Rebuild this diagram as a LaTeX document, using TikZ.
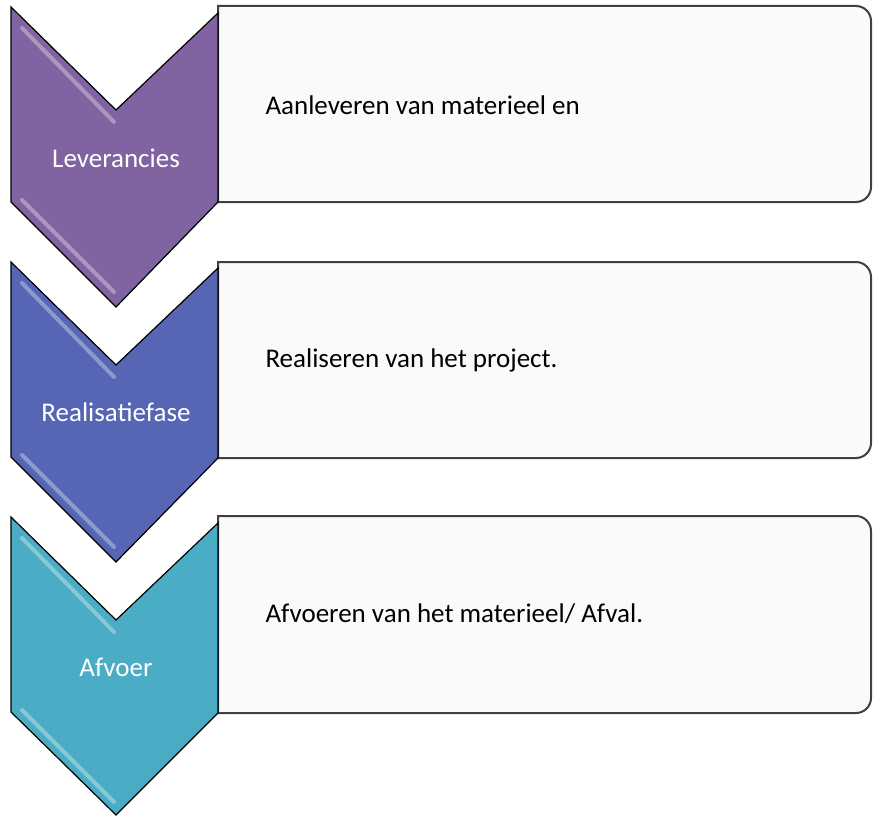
\documentclass[tikz,border=0pt]{standalone}
\usepackage{fontspec}
\setmainfont{Carlito}
\definecolor{levpurple}{HTML}{8064A2}
\definecolor{realblue}{HTML}{5665B4}
\definecolor{afvteal}{HTML}{4BACC6}
\definecolor{boxline}{HTML}{404040}
\definecolor{boxfill}{HTML}{FAFAFA}
\begin{document}
\begin{tikzpicture}[x=1pt,y=-1pt,
  phase/.style={draw=black,line width=1.2pt,line join=miter},
  gloss/.style={line width=4pt,line cap=round,opacity=0.6},
  stepbox/.style={draw=boxline,fill=boxfill,line width=2pt},
  phaselabel/.style={text=white,font=\fontsize{27}{32}\selectfont},
  boxlabel/.style={anchor=west,text=black,font=\fontsize{27}{32}\selectfont}]
\useasboundingbox (0,0) rectangle (873,816);
% Leverancies
\draw[stepbox] (218,202) -- (218,6) -- (840,6) [rounded corners=15] -- (871,6) -- (871,202) -- (840,202) [sharp corners] -- cycle;
\draw[phase,fill=levpurple] (11,7) -- (116,110) -- (218,13) -- (218,202) -- (116,307) -- (11,202) -- cycle;
\draw[gloss,levpurple!45!white] (22,28) -- (114,122);
\draw[gloss,levpurple!45!white] (22,200) -- (114,292);
\node[phaselabel] (lev) at (116,158) {Leverancies};
\node[boxlabel] (levtxt) at (262,105) {Aanleveren van materieel en};
% Realisatiefase
\draw[stepbox] (218,458) -- (218,262) -- (840,262) [rounded corners=15] -- (871,262) -- (871,458) -- (840,458) [sharp corners] -- cycle;
\draw[phase,fill=realblue] (11,262) -- (116,365) -- (218,268) -- (218,458) -- (116,562) -- (11,457) -- cycle;
\draw[gloss,realblue!45!white] (22,283) -- (114,377);
\draw[gloss,realblue!45!white] (22,455) -- (114,547);
\node[phaselabel] (real) at (116,412) {Realisatiefase};
\node[boxlabel] (realtxt) at (262,360) {Realiseren van het project.};
% Afvoer
\draw[stepbox] (218,713) -- (218,516) -- (840,516) [rounded corners=15] -- (871,516) -- (871,713) -- (840,713) [sharp corners] -- cycle;
\draw[phase,fill=afvteal] (11,517) -- (116,620) -- (218,523) -- (218,713) -- (116,815) -- (11,712) -- cycle;
\draw[gloss,afvteal!45!white] (22,538) -- (114,632);
\draw[gloss,afvteal!45!white] (22,710) -- (114,802);
\node[phaselabel] (afv) at (116,667) {Afvoer};
\node[boxlabel] (afvtxt) at (262,614) {Afvoeren van het materieel/ Afval.};
\end{tikzpicture}
\end{document}
